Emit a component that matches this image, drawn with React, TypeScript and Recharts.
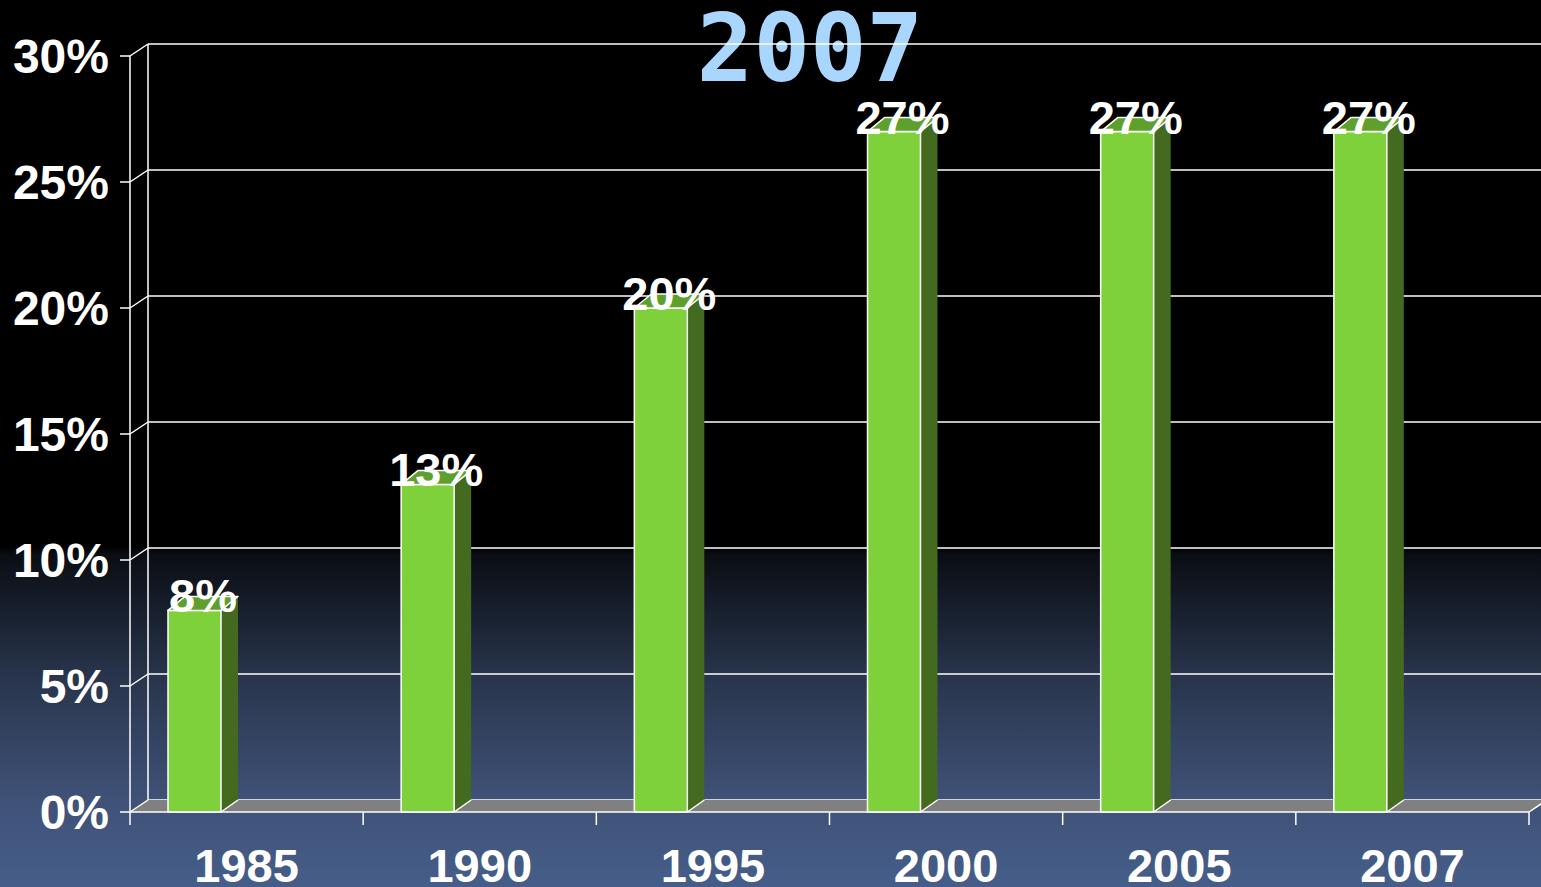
import React from "react";
import { BarChart, Bar, XAxis, YAxis, CartesianGrid, ReferenceArea } from "recharts";

const categories = ["1985", "1990", "1995", "2000", "2005", "2007"];
const values = [8, 13, 20, 27, 27, 27];
const yTicks = [0, 5, 10, 15, 20, 25, 30];
const Y_MAX = 30;
const title = "2007";

const data = categories.map((c, i) => ({ year: c, value: values[i] }));

const W = 1541;
const H = 887;
const XAXIS_H = 75;
const MARGIN = { top: 56, right: 12, bottom: 0, left: 10 };
const YAXIS_W = 120;
const PLOT_LEFT = MARGIN.left + YAXIS_W;
const PLOT_W = W - PLOT_LEFT - MARGIN.right;
const PLOT_H = H - MARGIN.top - MARGIN.bottom - XAXIS_H;
const BAND = PLOT_W / categories.length;
const WALL_DX = 18;
const WALL_DY = 12;
const BAR_DX = 17;
const BAR_DY = 14;
const BAR_SHIFT = -52;
const FONT = "'Liberation Sans', Arial, sans-serif";

const Bar3D = (props: any) => {
  const { x, y, width, height, payload } = props;
  const fx = x + BAR_SHIFT;
  const top = y;
  const bottom = y + height;
  const r = fx + width;
  return (
    <g>
      <polygon
        points={`${r},${top} ${r + BAR_DX},${top - BAR_DY} ${r + BAR_DX},${bottom - WALL_DY} ${r},${bottom}`}
        fill="#436a1f"
      />
      <line x1={r} y1={bottom} x2={r + BAR_DX} y2={bottom - WALL_DY} stroke="#fff" strokeWidth={1.5} />
      <rect x={fx} y={top} width={width} height={height} fill="#7ed13b" stroke="#fff" strokeWidth={1.5} />
      <polygon
        points={`${fx},${top} ${fx + BAR_DX},${top - BAR_DY} ${r + BAR_DX},${top - BAR_DY} ${r},${top}`}
        fill="#5f9f2c"
        stroke="#fff"
        strokeWidth={1.5}
        strokeLinejoin="round"
      />
      <text
        x={fx + width / 2 + BAR_DX / 2}
        y={top + 2}
        textAnchor="middle"
        fill="#fff"
        fontFamily={FONT}
        fontWeight="bold"
        fontSize={47}
      >
        {payload.value + "%"}
      </text>
    </g>
  );
};

const YTick = (props: any) => {
  const { x, y, payload } = props;
  return (
    <g>
      <line x1={PLOT_LEFT} y1={y} x2={PLOT_LEFT + WALL_DX} y2={y - WALL_DY} stroke="#fff" strokeWidth={1.5} />
      <text
        x={x}
        y={y}
        dy="0.36em"
        textAnchor="end"
        fill="#fff"
        fontFamily={FONT}
        fontWeight="bold"
        fontSize={48}
      >
        {payload.value + "%"}
      </text>
    </g>
  );
};

const XTick = (props: any) => {
  const { x, y, payload, index } = props;
  const axisY = y - 37;
  const left = x - BAND / 2;
  const right = x + BAND / 2;
  return (
    <g>
      <line x1={left} y1={axisY} x2={left} y2={axisY + 13} stroke="#fff" strokeWidth={1.5} />
      {index === categories.length - 1 && (
        <line x1={right} y1={axisY} x2={right} y2={axisY + 13} stroke="#fff" strokeWidth={1.5} />
      )}
      <text
        x={x}
        y={y}
        dy="0.71em"
        textAnchor="middle"
        fill="#fff"
        fontFamily={FONT}
        fontWeight="bold"
        fontSize={47}
      >
        {payload.value}
      </text>
    </g>
  );
};

const Floor = (props: any) => {
  const { x, y, width, height } = props;
  const b = y + height;
  const r = x + width;
  return (
    <g>
      <polygon
        points={`${x},${b} ${x + WALL_DX},${b - WALL_DY} ${r + WALL_DX},${b - WALL_DY} ${r},${b}`}
        fill="#808080"
      />
      <line x1={r} y1={b} x2={r + WALL_DX} y2={b - WALL_DY} stroke="#fff" strokeWidth={1.5} />
    </g>
  );
};

const gridY = (args: any) => {
  const yAxis = args && args.yAxis;
  const off = (args && args.offset) || { top: MARGIN.top, height: PLOT_H };
  return yTicks.map((t) => {
    const s = yAxis && typeof yAxis.scale === "function" ? yAxis.scale(t) : off.top + off.height * (1 - t / Y_MAX);
    return s - WALL_DY;
  });
};

export default function App() {
  return (
    <div
      style={{
        position: "absolute",
        left: 0,
        top: 0,
        width: W,
        height: H,
        overflow: "hidden",
        background:
          "linear-gradient(to bottom, #000 0%, #000 61.6%, #0a0d13 62.5%, #28344b 76%, #3f5177 90%, #455e89 100%)",
      }}
    >
      <svg width={W} height={H} style={{ position: "absolute", left: 0, top: 0 }}>
        <text
          x={810}
          y={81}
          textAnchor="middle"
          fill="#a9d6ff"
          fontFamily="'DejaVu Sans Mono', monospace"
          fontWeight="bold"
          fontSize={94}
        >
          {title}
        </text>
      </svg>
      <div style={{ position: "absolute", left: 0, top: 0 }}>
        <BarChart width={W} height={H} data={data} margin={MARGIN} barSize={53}>
          <CartesianGrid
            x={PLOT_LEFT + WALL_DX}
            y={MARGIN.top - WALL_DY}
            width={PLOT_W + 40}
            height={PLOT_H}
            stroke="#fff"
            strokeWidth={1.5}
            strokeDasharray="0"
            horizontalCoordinatesGenerator={gridY}
            verticalCoordinatesGenerator={() => [PLOT_LEFT + WALL_DX]}
          />
          <ReferenceArea y1={0} y2={0.5} shape={<Floor />} ifOverflow="visible" />
          <XAxis
            dataKey="year"
            height={XAXIS_H}
            interval={0}
            tickLine={false}
            tickSize={13}
            tickMargin={24}
            axisLine={{ stroke: "#fff", strokeWidth: 1.5 }}
            tick={<XTick />}
          />
          <YAxis
            width={YAXIS_W}
            domain={[0, Y_MAX]}
            ticks={yTicks}
            interval={0}
            tickSize={10}
            tickMargin={11}
            axisLine={{ stroke: "#fff", strokeWidth: 1.5 }}
            tickLine={{ stroke: "#fff", strokeWidth: 1.5 }}
            tick={<YTick />}
          />
          <Bar dataKey="value" shape={<Bar3D />} isAnimationActive={false} />
        </BarChart>
      </div>
    </div>
  );
}
